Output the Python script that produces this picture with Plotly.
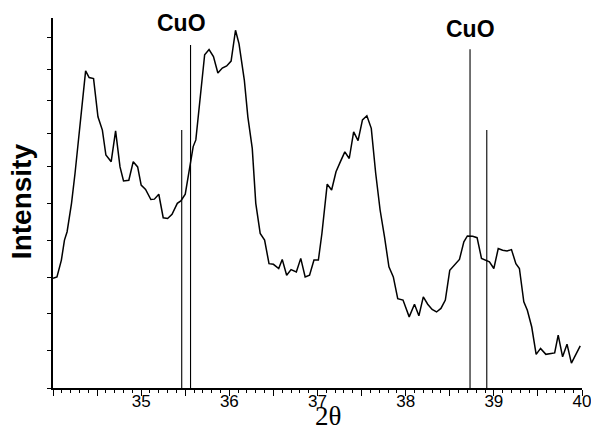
import plotly.graph_objects as go

# XRD pattern (2-theta, intensity in arbitrary units)
two_theta = [34.00, 34.045, 34.095, 34.13, 34.16, 34.21, 34.25, 34.29, 34.33, 34.37,
             34.41, 34.46, 34.51, 34.56, 34.60, 34.66, 34.71, 34.76, 34.80, 34.86,
             34.91, 34.96, 35.00, 35.05, 35.11, 35.15, 35.20, 35.25, 35.30, 35.35,
             35.41, 35.45, 35.50, 35.55, 35.59, 35.62, 35.67, 35.72, 35.77, 35.82,
             35.87, 35.92, 35.97, 36.02, 36.07, 36.11, 36.17, 36.21, 36.26, 36.30,
             36.35, 36.40, 36.45, 36.50, 36.56, 36.60, 36.65, 36.70, 36.76, 36.81,
             36.86, 36.91, 36.96, 37.01, 37.05, 37.11, 37.16, 37.21, 37.26, 37.31,
             37.36, 37.41, 37.46, 37.51, 37.56, 37.61, 37.66, 37.71, 37.76, 37.81,
             37.86, 37.91, 37.97, 38.04, 38.10, 38.15, 38.20, 38.25, 38.30, 38.35,
             38.40, 38.45, 38.50, 38.55, 38.61, 38.66, 38.70, 38.76, 38.81, 38.86,
             38.92, 38.95, 39.00, 39.05, 39.10, 39.15, 39.20, 39.25, 39.29, 39.34,
             39.38, 39.43, 39.48, 39.53, 39.59, 39.64, 39.69, 39.73, 39.78, 39.83,
             39.88, 39.98]
intensity = [3.13, 3.17, 3.65, 4.22, 4.46, 5.27, 6.13, 7.08, 8.08, 9.05,
             8.86, 8.83, 7.74, 7.36, 6.65, 6.46, 7.34, 6.31, 5.91, 5.93,
             6.46, 6.31, 5.79, 5.67, 5.38, 5.39, 5.53, 4.86, 4.84, 4.96,
             5.27, 5.34, 5.53, 6.36, 6.89, 7.08, 8.22, 9.51, 9.66, 9.46,
             8.99, 9.13, 9.19, 9.33, 10.21, 9.82, 8.79, 7.74, 6.84, 5.27,
             4.41, 4.22, 3.55, 3.53, 3.41, 3.67, 3.22, 3.38, 3.31, 3.70,
             3.17, 3.22, 3.65, 3.65, 4.41, 5.82, 5.65, 6.17, 6.46, 6.74,
             6.55, 7.31, 7.06, 7.65, 7.77, 7.41, 6.13, 5.08, 4.31, 3.46,
             3.17, 2.55, 2.51, 2.03, 2.39, 2.06, 2.60, 2.39, 2.24, 2.17,
             2.27, 2.51, 3.36, 3.51, 3.67, 4.17, 4.34, 4.33, 4.29, 3.70,
             3.63, 3.60, 3.41, 3.98, 3.93, 3.91, 3.95, 3.55, 3.41, 2.46,
             2.22, 1.74, 0.96, 1.13, 0.96, 0.98, 1.00, 1.51, 0.89, 1.25,
             0.71, 1.20]

# CuO reference lines
cuo_pos = [35.46, 35.56, 38.73, 38.92]
cuo_height = [7.36, 9.79, 9.67, 7.36]
cuo_label_pos = [35.46, 38.73]
cuo_label_y = [10.43, 10.24]
cuo_label = ["CuO", "CuO"]

# axis ticks
x_tick_vals = [34, 34.5, 35, 35.5, 36, 36.5, 37, 37.5, 38, 38.5, 39, 39.5, 40]
x_tick_text = ["", "", "35", "", "36", "", "37", "", "38", "", "39", "", "40"]
y_tick_vals = [0, 1.08, 2.13, 3.14, 4.22, 5.28, 6.31, 7.25, 8.2, 9.08, 10.0]
x_range = [34, 40]
y_range = [0, 10.56]

fig = go.Figure()

lx, ly = [], []
for p, h in zip(cuo_pos, cuo_height):
    lx += [p, p, None]
    ly += [0, h, None]
fig.add_trace(go.Scatter(x=lx, y=ly, mode="lines",
                         line=dict(color="black", width=1.1), hoverinfo="skip"))
fig.add_trace(go.Scatter(x=two_theta, y=intensity, mode="lines",
                         line=dict(color="black", width=1.5)))

for px, py, t in zip(cuo_label_pos, cuo_label_y, cuo_label):
    fig.add_annotation(x=px, y=py, text=t, showarrow=False,
                       xanchor="center", yanchor="middle",
                       font=dict(family="Liberation Sans, Arial", size=23, color="black", weight="bold"))

fig.add_annotation(xref="paper", yref="paper", x=0.52, y=0, yshift=-44,
                   text="2θ", showarrow=False, xanchor="center", yanchor="bottom",
                   borderpad=0,
                   font=dict(family="Liberation Serif, Times New Roman", size=27, color="black"))
fig.add_annotation(xref="paper", yref="paper", x=0, y=0.505, xshift=-32,
                   text="Intensity", showarrow=False, textangle=-90,
                   xanchor="center", yanchor="middle",
                   font=dict(family="Liberation Sans, Arial", size=28, color="black", weight="bold"))

fig.update_layout(
    width=591, height=432,
    margin=dict(l=53, r=9, t=18, b=44),
    paper_bgcolor="white", plot_bgcolor="white",
    showlegend=False,
    xaxis=dict(range=x_range, showgrid=False, zeroline=False, automargin=False,
               showline=True, linecolor="black", linewidth=1.5,
               tickmode="array", tickvals=x_tick_vals, ticktext=x_tick_text,
               ticks="outside", ticklen=6, tickwidth=1.3, tickcolor="black",
               ticklabeloverflow="allow", ticklabelstandoff=-9,
               tickfont=dict(family="Liberation Sans, Arial", size=17, color="black"),
               minor=dict(dtick=0.1, ticks="outside", ticklen=3, tickwidth=1, tickcolor="black")),
    yaxis=dict(range=y_range, showgrid=False, zeroline=False, automargin=False,
               showline=True, linecolor="black", linewidth=1.5,
               tickmode="array", tickvals=y_tick_vals, showticklabels=False,
               ticks="outside", ticklen=4, tickwidth=1.2, tickcolor="black"),
)

fig.write_html("out.html", config={"displayModeBar": False},
               post_script="document.body.style.margin='0';")
